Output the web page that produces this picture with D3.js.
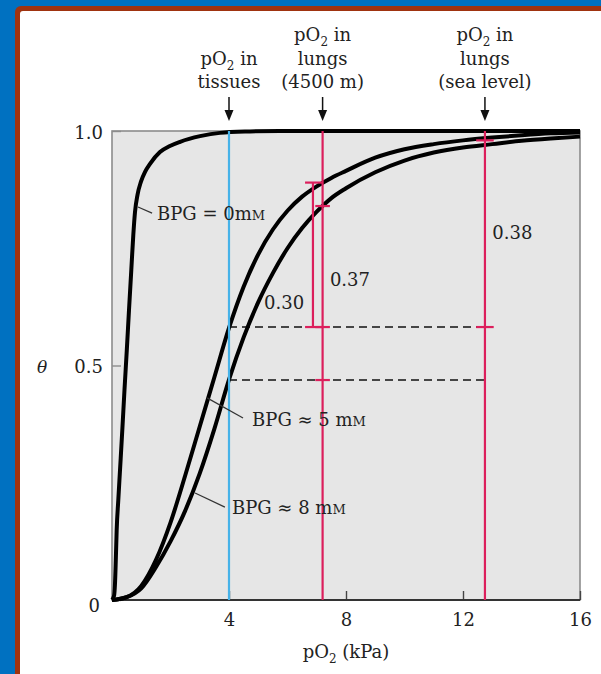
<!DOCTYPE html>
<html lang="en">
<head>
    <meta charset="UTF-8">
    <title>Oxygen binding curves and BPG</title>
    <style>
        body {
            margin: 0;
            background: #fff;
        }
        svg text {
            font-family: 'DejaVu Serif', serif;
            fill: #222;
        }
    </style>
</head>
<body>
    <svg id="chart" width="601" height="674"></svg>
    <script src="https://d3js.org/d3.v7.min.js"></script>
    <script>
        // Curves: [pO2 (kPa), theta]
        const bpg0 = [
            [0, 0], [0.07, 0.009], [0.10, 0.032], [0.13, 0.085], [0.16, 0.149],
            [0.215, 0.213], [0.274, 0.277], [0.352, 0.362], [0.427, 0.448],
            [0.506, 0.533], [0.581, 0.618], [0.66, 0.704], [0.728, 0.778],
            [0.786, 0.827], [0.872, 0.864], [0.99, 0.892], [1.13, 0.913],
            [1.30, 0.93], [1.64, 0.955], [1.98, 0.968], [2.33, 0.977],
            [3.01, 0.989], [3.69, 0.996], [4.72, 0.999], [5.74, 1], [16, 1]
        ];
        const bpg5 = [
            [0, 0], [0.5, 0.006], [1.0, 0.03], [1.5, 0.085], [2.0, 0.165],
            [2.5, 0.265], [3.0, 0.37], [3.5, 0.475], [4.0, 0.58], [4.5, 0.668],
            [5.0, 0.737], [5.5, 0.79], [6.0, 0.83], [6.5, 0.86], [7.0, 0.882],
            [7.5, 0.9], [8.0, 0.915], [9.0, 0.943], [10.0, 0.961], [11.0, 0.972],
            [12.0, 0.98], [13.0, 0.986], [14.0, 0.991], [15.0, 0.995], [16.0, 0.997]
        ];
        const bpg8 = [
            [0, 0], [0.5, 0.006], [1.0, 0.025], [1.5, 0.07], [2.0, 0.125],
            [2.5, 0.19], [3.0, 0.27], [3.5, 0.365], [4.0, 0.47], [4.5, 0.56],
            [5.0, 0.635], [5.5, 0.697], [6.0, 0.75], [6.5, 0.793], [7.0, 0.828],
            [7.5, 0.857], [8.0, 0.878], [9.0, 0.912], [10.0, 0.937], [11.0, 0.954],
            [12.0, 0.965], [13.0, 0.972], [14.0, 0.979], [15.0, 0.984], [16.0, 0.988]
        ];

        // Reference pressures
        const tissueP = 4;
        const lungP = [7.2, 12.75];

        // Dashed levels: theta at tissue pO2, and how far they run
        const dashLevels = [[0.582, 12.95], [0.469, 12.75]];

        // Bars: [pO2, theta low, theta high]
        const bars = [[6.87, 0.582, 0.89]];

        // Caps: [pO2 from, pO2 to, theta]
        const caps = [
            [6.6, 7.2, 0.89], [6.6, 7.2, 0.582],
            [6.95, 7.45, 0.84], [6.95, 7.45, 0.582], [6.95, 7.45, 0.469],
            [12.45, 13.05, 0.582], [12.45, 13.05, 0.98]
        ];

        // Difference labels: [text, pO2, theta]
        const diffLabels = [["0.30", 5.2, 0.62], ["0.37", 7.45, 0.67], ["0.38", 13.0, 0.77]];

        // Curve labels: leader start, leader end, text position
        const curveLabels = [
            { pre: "BPG = 0", from: [0.89, 0.838], to: [1.37, 0.825], at: [1.54, 0.81] },
            { pre: "BPG \u2248 5 ", from: [3.25, 0.431], to: [4.48, 0.388], at: [4.79, 0.371] },
            { pre: "BPG \u2248 8 ", from: [2.84, 0.228], to: [3.86, 0.198], at: [4.1, 0.183] }
        ];

        // Top annotations
        const topLabels = [
            { p: 4, lines: ["pO2 in", "tissues"] },
            { p: 7.2, lines: ["pO2 in", "lungs", "(4500 m)"] },
            { p: 12.75, lines: ["pO2 in", "lungs", "(sea level)"] }
        ];

        const xTicks = [4, 8, 12, 16];
        const yTicks = [0, 0.5, 1];

        const svg = d3.select("#chart");

        // Frame: blue, then brown edge, then white page
        svg.append("rect").attr("width", 601).attr("height", 674).attr("fill", "#0071c1");
        svg.append("rect").attr("x", 15).attr("y", 6).attr("width", 700).attr("height", 700)
            .attr("rx", 6).attr("fill", "#a0330f");
        svg.append("rect").attr("x", 20).attr("y", 11).attr("width", 700).attr("height", 700)
            .attr("rx", 3).attr("fill", "#fff");

        const x = d3.scaleLinear().domain([0, 16]).range([112, 580]);
        const y = d3.scaleLinear().domain([0, 1]).range([600, 131]);

        // Plot background
        svg.append("rect")
            .attr("x", x(0)).attr("y", y(1))
            .attr("width", x(16) - x(0)).attr("height", y(0) - y(1))
            .attr("fill", "#e6e6e6")
            .attr("stroke", "#8c8c8c")
            .attr("stroke-width", 1.6);

        // Axes
        const xAxis = svg.append("g")
            .attr("transform", `translate(0,${y(0)})`)
            .call(d3.axisBottom(x).tickValues(xTicks).tickSizeInner(-9).tickSizeOuter(0).tickPadding(13));
        xAxis.select(".domain").remove();
        xAxis.selectAll(".tick line").attr("stroke", "#444").attr("stroke-width", 1.4);
        xAxis.selectAll(".tick text").attr("font-size", 18).attr("font-family", "'DejaVu Serif', serif").attr("fill", "#222");

        const yAxis = svg.append("g")
            .attr("transform", `translate(${x(0)},0)`)
            .call(d3.axisLeft(y).tickValues(yTicks).tickSizeInner(-9).tickSizeOuter(0).tickPadding(9)
                .tickFormat(d => d === 0 ? "0" : d3.format(".1f")(d)));
        yAxis.select(".domain").remove();
        yAxis.selectAll(".tick line").attr("stroke", "#8c8c8c").attr("stroke-width", 1.4);
        yAxis.selectAll(".tick text").attr("font-size", 18).attr("font-family", "'DejaVu Serif', serif").attr("fill", "#222")
            .attr("dy", d => d === 0 ? "0.62em" : "0.4em")
            .attr("dx", d => d === 0 ? -3 : 0);

        // Bottom axis line
        svg.append("line")
            .attr("x1", x(0)).attr("x2", x(16))
            .attr("y1", y(0)).attr("y2", y(0))
            .attr("stroke", "#333").attr("stroke-width", 2);

        // Axis titles
        svg.append("text")
            .attr("x", 42).attr("y", y(0.5) + 7)
            .attr("font-size", 17).attr("font-style", "italic")
            .attr("text-anchor", "middle")
            .text("\u03b8");

        const xTitle = svg.append("text")
            .attr("x", 346).attr("y", 658)
            .attr("font-size", 18).attr("text-anchor", "middle");
        xTitle.append("tspan").text("pO");
        xTitle.append("tspan").attr("font-size", 12).attr("dy", 5).text("2");
        xTitle.append("tspan").attr("dy", -5).text(" (kPa)");

        // Dashed levels
        svg.selectAll(".dash")
            .data(dashLevels)
            .join("line")
            .attr("x1", x(tissueP)).attr("x2", d => x(d[1]))
            .attr("y1", d => y(d[0])).attr("y2", d => y(d[0]))
            .attr("stroke", "#111").attr("stroke-width", 1.6)
            .attr("stroke-dasharray", "8,5");

        // Curves
        const line = d3.line()
            .x(d => x(d[0]))
            .y(d => y(d[1]))
            .curve(d3.curveMonotoneX);

        svg.selectAll(".curve")
            .data([bpg0, bpg5, bpg8])
            .join("path")
            .attr("d", line)
            .attr("fill", "none")
            .attr("stroke", "#000")
            .attr("stroke-width", 4)
            .attr("stroke-linejoin", "round");

        // Vertical reference lines
        svg.append("line")
            .attr("x1", x(tissueP)).attr("x2", x(tissueP))
            .attr("y1", y(1)).attr("y2", y(0))
            .attr("stroke", "#46b2e8").attr("stroke-width", 2.2);

        svg.selectAll(".lung")
            .data(lungP)
            .join("line")
            .attr("x1", d => x(d)).attr("x2", d => x(d))
            .attr("y1", y(1)).attr("y2", y(0))
            .attr("stroke", "#dc1f5c").attr("stroke-width", 2.2);

        svg.selectAll(".bar")
            .data(bars)
            .join("line")
            .attr("x1", d => x(d[0])).attr("x2", d => x(d[0]))
            .attr("y1", d => y(d[1])).attr("y2", d => y(d[2]))
            .attr("stroke", "#dc1f5c").attr("stroke-width", 2.2);

        svg.selectAll(".cap")
            .data(caps)
            .join("line")
            .attr("x1", d => x(d[0])).attr("x2", d => x(d[1]))
            .attr("y1", d => y(d[2])).attr("y2", d => y(d[2]))
            .attr("stroke", "#dc1f5c").attr("stroke-width", 2.2);

        // Difference labels
        svg.selectAll(".diff")
            .data(diffLabels)
            .join("text")
            .attr("x", d => x(d[1])).attr("y", d => y(d[2]))
            .attr("font-size", 18)
            .text(d => d[0]);

        // Curve labels with leaders
        curveLabels.forEach(c => {
            svg.append("line")
                .attr("x1", x(c.from[0])).attr("y1", y(c.from[1]))
                .attr("x2", x(c.to[0])).attr("y2", y(c.to[1]))
                .attr("stroke", "#333").attr("stroke-width", 1.2);
            const t = svg.append("text")
                .attr("x", x(c.at[0])).attr("y", y(c.at[1]))
                .attr("font-size", 18);
            t.append("tspan").text(c.pre + "m");
            t.append("tspan").attr("font-size", 13).text("M");
        });

        // Top annotations with arrows
        topLabels.forEach(lab => {
            const cx = x(lab.p);
            const n = lab.lines.length;
            lab.lines.forEach((s, i) => {
                const baseY = 88 - (n - 1 - i) * 23.5;
                const t = svg.append("text")
                    .attr("x", cx).attr("y", baseY)
                    .attr("font-size", 18).attr("text-anchor", "middle");
                if (s.startsWith("pO2")) {
                    t.append("tspan").text("pO");
                    t.append("tspan").attr("font-size", 12).attr("dy", 5).text("2");
                    t.append("tspan").attr("dy", -5).text(" in");
                } else {
                    t.text(s);
                }
            });
            svg.append("line")
                .attr("x1", cx).attr("x2", cx)
                .attr("y1", 97).attr("y2", 112)
                .attr("stroke", "#111").attr("stroke-width", 1.5);
            svg.append("path")
                .attr("d", `M${cx - 4.5},110 L${cx + 4.5},110 L${cx},121 Z`)
                .attr("fill", "#111");
        });
    </script>
</body>
</html>
